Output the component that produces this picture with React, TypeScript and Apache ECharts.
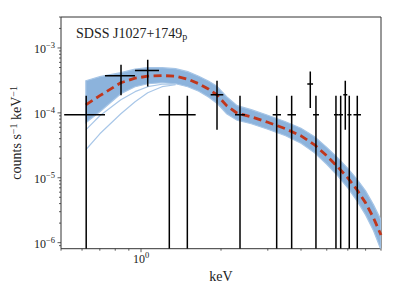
import React, { useEffect, useRef } from 'react';
import * as echarts from 'echarts';

// ---- observed spectrum (bins) ----
const binCenters = [0.622, 0.841, 1.06, 1.278, 1.494, 1.932, 2.358, 3.24, 3.689, 4.335, 4.553, 5.415, 5.641, 5.871, 6.077, 6.514];
const binLow = [0.514, 0.732, 0.949, 1.169, 1.378, 1.829, 2.258, 3.13, 3.557, 4.224, 4.44, 5.323, 5.525, 5.77, 5.974, 6.302];
const binHigh = [0.732, 0.949, 1.169, 1.378, 1.606, 2.04, 2.462, 3.363, 3.83, 4.44, 4.674, 5.525, 5.754, 5.974, 6.194, 6.725];
const counts = [9.35e-5, 3.74e-4, 4.51e-4, 9.35e-5, 9.35e-5, 1.9e-4, 9.35e-5, 9.35e-5, 9.35e-5, 2.78e-4, 9.35e-5, 9.35e-5, 9.35e-5, 1.9e-4, 9.35e-5, 9.35e-5];
const countsHigh = [1.84e-4, 5.52e-4, 6.6e-4, 1.84e-4, 1.84e-4, 3.13e-4, 1.84e-4, 1.84e-4, 1.84e-4, 4.35e-4, 1.84e-4, 1.84e-4, 1.84e-4, 3.13e-4, 1.84e-4, 1.84e-4];
// 1e-9 = error bar reaches below the axis
const countsLow = [1e-9, 1.86e-4, 2.55e-4, 1e-9, 1e-9, 5.48e-5, 1e-9, 1e-9, 1e-9, 1.19e-4, 1e-9, 1e-9, 1e-9, 5.48e-5, 1e-9, 1e-9];

// ---- model ----
const modelX = [0.62, 0.7, 0.84, 0.95, 1.06, 1.2, 1.35, 1.5, 1.65, 1.8, 1.93, 2.1, 2.3, 2.6, 3.0, 3.5, 4.0, 4.5, 5.0, 5.5, 6.0, 6.5, 7.0, 7.5, 8.0];
const modelMedian = [1.33e-4, 1.84e-4, 2.91e-4, 3.42e-4, 3.67e-4, 3.76e-4, 3.67e-4, 3.3e-4, 2.81e-4, 2.31e-4, 1.9e-4, 1.29e-4, 9.86e-5, 8.71e-5, 7.16e-5, 5.68e-5, 4.43e-5, 3.22e-5, 2.18e-5, 1.47e-5, 9.97e-6, 6.51e-6, 4.1e-6, 2.4e-6, 1.31e-6];
const bandUpper = [3.13e-4, 3.61e-4, 4.16e-4, 4.71e-4, 4.97e-4, 4.97e-4, 4.79e-4, 4.31e-4, 3.67e-4, 3.07e-4, 2.57e-4, 1.77e-4, 1.29e-4, 1.12e-4, 9.18e-5, 7.29e-5, 5.78e-5, 4.28e-5, 2.94e-5, 2.03e-5, 1.4e-5, 9.45e-6, 6.28e-6, 3.82e-6, 2.24e-6];
const bandLower = [7.04e-5, 1.04e-4, 1.97e-4, 2.53e-4, 2.81e-4, 2.91e-4, 2.81e-4, 2.53e-4, 2.15e-4, 1.74e-4, 1.41e-4, 9.68e-5, 7.69e-5, 6.79e-5, 5.58e-5, 4.43e-5, 3.4e-5, 2.42e-5, 1.61e-5, 1.07e-5, 6.98e-6, 4.4e-6, 2.68e-6, 1.52e-6, 7.71e-7];
const outlierX = [0.62, 0.7, 0.84, 0.95, 1.06, 1.2, 1.35];
const outlierA = [2.7e-5, 4.76e-5, 9.68e-5, 1.48e-4, 2.04e-4, 2.53e-4, 2.71e-4];
const outlierB = [5.48e-5, 9.02e-5, 1.59e-4, 2.12e-4, 2.53e-4, 2.76e-4, 2.76e-4];

// ---- axes ----
const X_MIN = 0.5;
const X_MAX = 8.0;
const Y_MIN = 8.07e-7;
const Y_MAX = 3.0e-3;
const xMajorTicks = [1];
const xMinorTicks = [0.5, 0.6, 0.7, 0.8, 0.9, 2, 3, 4, 5, 6, 7, 8];
const yMajorTicks = [1e-6, 1e-5, 1e-4, 1e-3];
const yMinorTicks = [9e-7, 2e-6, 3e-6, 4e-6, 5e-6, 6e-6, 7e-6, 8e-6, 9e-6, 2e-5, 3e-5, 4e-5, 5e-5, 6e-5, 7e-5, 8e-5, 9e-5, 2e-4, 3e-4, 4e-4, 5e-4, 6e-4, 7e-4, 8e-4, 9e-4, 2e-3, 3e-3];

const FONT = '"Liberation Serif", "DejaVu Serif", serif';
const AXIS_COLOR = '#333';
const TEXT_COLOR = '#222';

function makeSupRich() {
  return {
    b: { fontSize: 12, fontFamily: FONT, color: TEXT_COLOR, padding: [3, 0, 0, 0] },
    s: { fontSize: 8.5, fontFamily: FONT, color: TEXT_COLOR, padding: [0, 0, 5, 0] },
  };
}

function exponentOf(v: number) {
  const e = Math.log10(v);
  if (Math.abs(e - Math.round(e)) > 1e-6) return null;
  const r = Math.round(e);
  return r < 0 ? '\u2212' + -r : String(r);
}

function powLabel(v: number) {
  const ex = exponentOf(v);
  return ex === null ? '' : `{b|10}{s|${ex}}`;
}

function tickSeries(values: number[], axis: 'x' | 'y', len: number) {
  return {
    type: 'custom',
    clip: false,
    silent: true,
    z: 10,
    data: values.map((v) => (axis === 'x' ? [v, Y_MIN] : [X_MIN, v])),
    renderItem: (_params: any, api: any) => {
      const p = api.coord([api.value(0), api.value(1)]);
      const shape =
        axis === 'x'
          ? { x1: p[0], y1: p[1], x2: p[0], y2: p[1] + len }
          : { x1: p[0], y1: p[1], x2: p[0] - len, y2: p[1] };
      return { type: 'line', shape, style: { stroke: AXIS_COLOR, lineWidth: 0.8 } };
    },
  };
}

export default function App() {
  const ref = useRef<HTMLDivElement>(null);
  useEffect(() => {
    if (!ref.current) return;
    const chart = echarts.init(ref.current, null, { renderer: 'svg' });
    const option: any = {
      animation: false,
      backgroundColor: '#fff',
      title: {
        text: '{a|SDSS J1027+1749}{p|p}',
        left: 76,
        top: 25,
        padding: 0,
        textStyle: {
          fontWeight: 'normal',
          fontFamily: FONT,
          color: TEXT_COLOR,
          rich: {
            a: { fontSize: 14, fontWeight: 'normal', fontFamily: FONT, color: TEXT_COLOR },
            p: { fontSize: 10, fontWeight: 'normal', fontFamily: FONT, color: TEXT_COLOR, padding: [6, 0, 0, 0] },
          },
        },
      },
      grid: {
        left: 61,
        right: 18,
        top: 17,
        bottom: 50.3,
        show: true,
        borderColor: AXIS_COLOR,
        borderWidth: 1,
        backgroundColor: 'transparent',
        outerBoundsMode: 'none',
      },
      xAxis: {
        type: 'log',
        logBase: 10,
        min: X_MIN,
        max: X_MAX,
        name: 'keV',
        nameLocation: 'middle',
        nameGap: 17,
        nameTextStyle: { fontFamily: FONT, fontSize: 14, color: TEXT_COLOR },
        axisLine: { show: false },
        axisTick: { show: false },
        splitLine: { show: false },
        minorTick: { show: false },
        axisLabel: { margin: 1, color: TEXT_COLOR, formatter: powLabel, rich: makeSupRich(), fontFamily: FONT },
      },
      yAxis: {
        type: 'log',
        logBase: 10,
        min: Y_MIN,
        max: Y_MAX,
        name: 'counts s{s|\u22121} keV{s|\u22121}',
        nameLocation: 'middle',
        nameGap: 27,
        nameRotate: 90,
        nameTextStyle: {
          fontFamily: FONT,
          fontSize: 14,
          color: TEXT_COLOR,
          rich: {
            s: { fontSize: 10, fontFamily: FONT, color: TEXT_COLOR, padding: [0, 0, 6, 0] },
          },
        },
        axisLine: { show: false },
        axisTick: { show: false },
        splitLine: { show: false },
        minorTick: { show: false },
        axisLabel: { margin: 6, color: TEXT_COLOR, formatter: powLabel, rich: makeSupRich(), fontFamily: FONT },
      },
      series: [
        {
          type: 'line',
          name: 'outlierA',
          data: outlierX.map((x, i) => [x, outlierA[i]]),
          showSymbol: false,
          symbol: 'none',
          silent: true,
          z: 1,
          lineStyle: { color: '#a9c7e8', width: 1.2 },
        },
        {
          type: 'line',
          name: 'outlierB',
          data: outlierX.map((x, i) => [x, outlierB[i]]),
          showSymbol: false,
          symbol: 'none',
          silent: true,
          z: 1,
          lineStyle: { color: '#a9c7e8', width: 1.2 },
        },
        {
          type: 'custom',
          name: 'band',
          clip: true,
          silent: true,
          z: 2,
          data: [[modelX[0], modelMedian[0]]],
          renderItem: (_params: any, api: any) => {
            const pts: number[][] = [];
            for (let i = 0; i < modelX.length; i++) pts.push(api.coord([modelX[i], bandUpper[i]]));
            for (let i = modelX.length - 1; i >= 0; i--) pts.push(api.coord([modelX[i], bandLower[i]]));
            return {
              type: 'polygon',
              shape: { points: pts },
              style: { fill: '#8cb3dc', stroke: '#a6c5e6', lineWidth: 1.2 },
            };
          },
        },
        {
          type: 'line',
          name: 'median',
          data: modelX.map((x, i) => [x, modelMedian[i]]),
          showSymbol: false,
          symbol: 'none',
          silent: true,
          z: 3,
          lineStyle: { color: '#c0361c', width: 2.8, type: [8, 4.5] },
        },
        {
          type: 'custom',
          name: 'data',
          clip: true,
          silent: true,
          z: 4,
          encode: { x: 0, y: 1 },
          data: binCenters.map((x, i) => [x, counts[i], binLow[i], binHigh[i], countsLow[i], countsHigh[i]]),
          renderItem: (params: any, api: any) => {
            const x = api.value(0);
            const y = api.value(1);
            const l = api.coord([api.value(2), y]);
            const r = api.coord([api.value(3), y]);
            const t = api.coord([x, api.value(5)]);
            const b = api.coord([x, api.value(4)]);
            const cs = params.coordSys;
            const bottom = Math.min(b[1], cs.y + cs.height);
            const st = { stroke: '#000', lineWidth: 1.5 };
            return {
              type: 'group',
              children: [
                { type: 'line', shape: { x1: l[0], y1: l[1], x2: r[0], y2: r[1] }, style: st },
                { type: 'line', shape: { x1: t[0], y1: t[1], x2: t[0], y2: bottom }, style: st },
              ],
            };
          },
        },
        tickSeries(xMajorTicks, 'x', 3.5),
        tickSeries(xMinorTicks, 'x', 2),
        tickSeries(yMajorTicks, 'y', 3.5),
        tickSeries(yMinorTicks, 'y', 2),
      ],
    };
    chart.setOption(option);
    return () => chart.dispose();
  }, []);
  return <div ref={ref} style={{ width: 399, height: 299, position: 'absolute', left: 0, top: 0 }} />;
}
